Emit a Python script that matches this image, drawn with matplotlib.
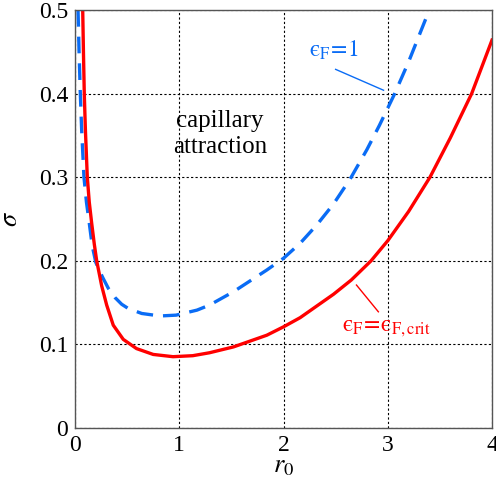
import matplotlib
matplotlib.use("Agg")
import matplotlib.pyplot as plt

# Curvas (r0, sigma)
r0_crit = [0.074, 0.081, 0.089, 0.100, 0.118, 0.137, 0.160, 0.185, 0.208, 0.256, 0.304, 0.367,
           0.463, 0.59, 0.75, 0.94, 1.13, 1.29, 1.52, 1.84, 2.00, 2.16, 2.48, 2.65, 2.84, 3.00,
           3.20, 3.405, 3.60, 3.805, 4.00]
sigma_crit = [0.50, 0.45, 0.40, 0.356, 0.30, 0.270, 0.245, 0.220, 0.200, 0.170, 0.147, 0.123,
              0.106, 0.095, 0.088, 0.0853, 0.0865, 0.090, 0.097, 0.111, 0.121, 0.132, 0.160, 0.177,
              0.200, 0.224, 0.259, 0.300, 0.347, 0.400, 0.464]

r0_one = [0.029, 0.039, 0.051, 0.064, 0.086, 0.110, 0.137, 0.165, 0.200, 0.235, 0.27, 0.32, 0.384,
          0.448, 0.51, 0.64, 0.815, 0.97, 1.17, 1.29, 1.52, 1.84, 2.00, 2.16, 2.32, 2.48, 2.64,
          2.80, 2.92, 3.063, 3.20, 3.36, 3.40]
sigma_one = [0.50, 0.45, 0.40, 0.356, 0.30, 0.270, 0.245, 0.218, 0.198, 0.188, 0.179, 0.167, 0.156,
             0.148, 0.143, 0.137, 0.134, 0.135, 0.141, 0.147, 0.163, 0.189, 0.203, 0.221, 0.243,
             0.268, 0.298, 0.333, 0.362, 0.399, 0.438, 0.488, 0.500]

xticks = [0, 1, 2, 3, 4]
yticks = [0, 0.1, 0.2, 0.3, 0.4, 0.5]
ytick_labels = ["0", "0.1", "0.2", "0.3", "0.4", "0.5"]

plt.rcParams["font.family"] = "serif"
plt.rcParams["font.serif"] = ["Liberation Serif"]
plt.rcParams["mathtext.fontset"] = "stix"

AZUL = "#0a6cf5"
VERMELHO = "#ff0000"

fig = plt.figure(figsize=(4.96, 4.86), dpi=100)
ax = fig.add_axes([75 / 496, 58 / 486, 417 / 496, 418 / 486])

ax.plot(r0_one, sigma_one, color=AZUL, lw=2.4, dashes=(5, 3), solid_joinstyle="round")
ax.plot(r0_crit, sigma_crit, color=VERMELHO, lw=2.4, solid_joinstyle="round")

ax.set_xlim(0, 4)
ax.set_ylim(0, 0.5)
ax.set_xticks(xticks)
ax.set_yticks(yticks)
ax.set_yticklabels(ytick_labels)
ax.tick_params(length=0, labelsize=17, pad=5)
ax.grid(True, color="black", linestyle=(0, (2, 2)), linewidth=0.8)
for s in ax.spines.values():
    s.set_color("#555555")
    s.set_linewidth(1.0)

ax.set_xlabel(r"$r_{\mathit{0}}$", fontsize=19, labelpad=0)
ax.set_ylabel(r"$\sigma$", fontsize=19, labelpad=12)

ax.text(1.39, 0.352, "capillary\nattraction", ha="center", va="center", fontsize=18, linespacing=1.25)

# rótulos das curvas (épsilon lunado, ϵ)
ax.text(2.24, 0.452, r"$\mathrm{ϵ}_{\mathrm{F}}\!=\!1$", color=AZUL, fontsize=17, va="center")
ax.plot([2.50, 2.96], [0.429, 0.404], color=AZUL, lw=1.0)

ax.text(2.56, 0.119, r"$\mathrm{ϵ}_{\mathrm{F}}\!=\!\mathrm{ϵ}_{\mathrm{F,crit}}$",
        color=VERMELHO, fontsize=17, va="center")
ax.plot([2.70, 2.91], [0.171, 0.139], color=VERMELHO, lw=1.0)

fig.savefig("out.png", dpi=100)
